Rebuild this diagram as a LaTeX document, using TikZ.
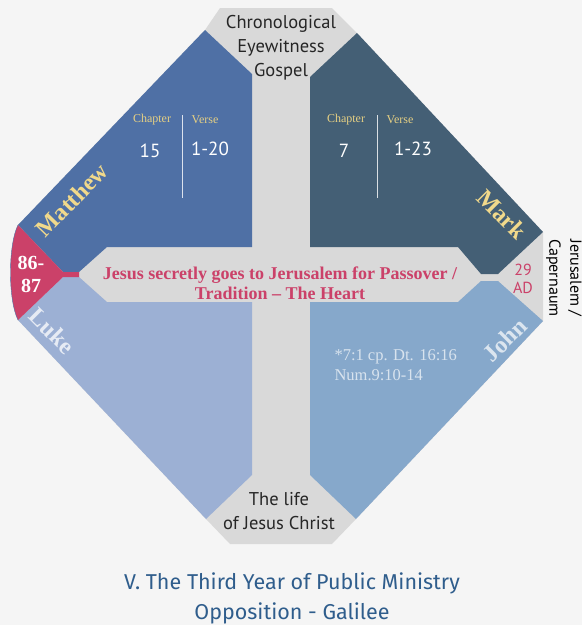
\documentclass[tikz,border=0pt]{standalone}
\usepackage{fontspec}
\setmainfont{Liberation Serif}
\setsansfont{PT Sans}
\newfontfamily\titlefont{Fira Sans}
\usetikzlibrary{positioning}
\definecolor{pagebg}{HTML}{F5F5F5}
\definecolor{crossgrey}{HTML}{D9D9D9}
\definecolor{matthewblue}{HTML}{4F70A5}
\definecolor{markblue}{HTML}{445F75}
\definecolor{lukeblue}{HTML}{9CB0D4}
\definecolor{johnblue}{HTML}{86A8CB}
\definecolor{heartred}{HTML}{CB4169}
\definecolor{nameyellow}{HTML}{F1D98B}
\definecolor{headyellow}{HTML}{E6D083}
\definecolor{titleblue}{HTML}{2F5D8C}
\tikzset{
    %Define style for the gospel names
    gospel/.style={
           inner sep=0pt,
           font=\bfseries\fontsize{24}{24}\selectfont},
    %Define style for chapter and verse heads
    head/.style={
           text=headyellow,
           inner sep=1pt,
           font=\fontsize{12}{12}\selectfont},
    %Define style for chapter and verse numbers
    num/.style={
           text=white,
           inner sep=1pt,
           font=\sffamily\fontsize{19}{19}\selectfont},
    % Define style for the grey captions
    caption/.style={
           align=center,
           text=black!85,
           font=\sffamily\fontsize{18.5}{24}\selectfont}
}

\begin{document}
\begin{tikzpicture}[x=1pt,y=-1pt,node distance=16pt]
    \fill[pagebg] (0,0) rectangle (582,625);
    \useasboundingbox (0,0) rectangle (582,625);
    % grey cross behind the four gospels
    \fill[crossgrey] (220,8) -- (332,8) -- (357,33) -- (543,232) -- (543,321)
          -- (356,519) -- (332,544) -- (230,544) -- (206,519) -- (18,320)
          .. controls (8,300) and (8,245) .. (18,225) -- (205,30) -- cycle;
    \fill[matthewblue] (205,30) -- (252,74) -- (252,247) -- (107,247)
          -- (79,272) -- (63,272) -- (18,225) -- cycle;
    \fill[markblue] (357,33) -- (310,77) -- (310,247) -- (458,247)
          -- (481,274) -- (498,274) -- (543,232) -- cycle;
    \fill[lukeblue] (63,277) -- (79,277) -- (107,302) -- (252,302)
          -- (252,475) -- (206,519) -- (18,320) -- cycle;
    \fill[johnblue] (498,281) -- (481,281) -- (458,302) -- (310,302)
          -- (310,475) -- (356,519) -- (543,321) -- cycle;
    \fill[heartred] (18,225) -- (63,272) -- (79,272) -- (79,277) -- (63,277)
          -- (18,320) .. controls (8,300) and (8,245) .. (18,225) -- cycle;
    \draw[matthewblue,thin] (18,320) .. controls (8,300) and (8,245) .. (18,225);

    \node (top) [caption] at (281,48) {Chronological\\Eyewitness\\Gospel};
    \node (life) [caption] at (279,511) {The life\\of Jesus Christ};

    \node (matthew) [gospel,text=nameyellow,rotate=46] at (72,200) {Matthew};
    \node (mark) [gospel,text=nameyellow,rotate=-45] at (502,214) {Mark};
    \node (luke) [gospel,text=white!75!lukeblue,rotate=-45] at (52,331) {Luke};
    \node (john) [gospel,text=white!70!johnblue,rotate=45] at (505,340) {John};

    \node (mtchap) [head] at (152,120) {Chapter};
    \node (mtverse) [head] at (205,120) {Verse};
    \node (mtc) [num] [below=of mtchap,xshift=-2pt] {15};
    \node (mtv) [num] [below=of mtverse,xshift=5pt] {1-20};
    \coordinate (mttop) at (182,115);
    \coordinate (mtbot) at (182,198);
    \draw[white!80!matthewblue] (mttop) -- (mtbot);

    \node (mkchap) [head] at (346,120) {Chapter};
    \node (mkverse) [head] at (400,120) {Verse};
    \node (mkc) [num] [below=of mkchap,xshift=-2pt] {7};
    \node (mkv) [num] [below=of mkverse,xshift=13pt] {1-23};
    \coordinate (mktop) at (377,115);
    \coordinate (mkbot) at (377,198);
    \draw[white!80!markblue] (mktop) -- (mkbot);

    \node (heart) [align=center,text=heartred,
          font=\bfseries\fontsize{18}{20}\selectfont] at (280,283)
          {Jesus secretly goes to Jerusalem for Passover /\\Tradition -- The Heart};
    \node (year) [align=center,text=white,
          font=\bfseries\fontsize{20}{23}\selectfont] at (31,274) {86-\\87};
    \node (ad) [align=center,text=heartred,
          font=\sffamily\fontsize{16}{18}\selectfont] at (523,279) {29\\AD};
    \node (place) [align=center,rotate=-90,inner sep=1pt,
          font=\sffamily\fontsize{16}{21}\selectfont] at (564,278)
          {Jerusalem /\\Capernaum};
    \node (note) [align=left,anchor=north west,text=white!68!johnblue,
          font=\fontsize{16.5}{20}\selectfont] at (331,346)
          {*7:1 cp. Dt. 16:16\\Num.9:10-14};

    \node (title) [align=center,text=titleblue,
          font=\titlefont\fontsize{21.5}{30}\selectfont] at (292,598)
          {V. The Third Year of Public Ministry\\Opposition - Galilee};
\end{tikzpicture}
\end{document}
